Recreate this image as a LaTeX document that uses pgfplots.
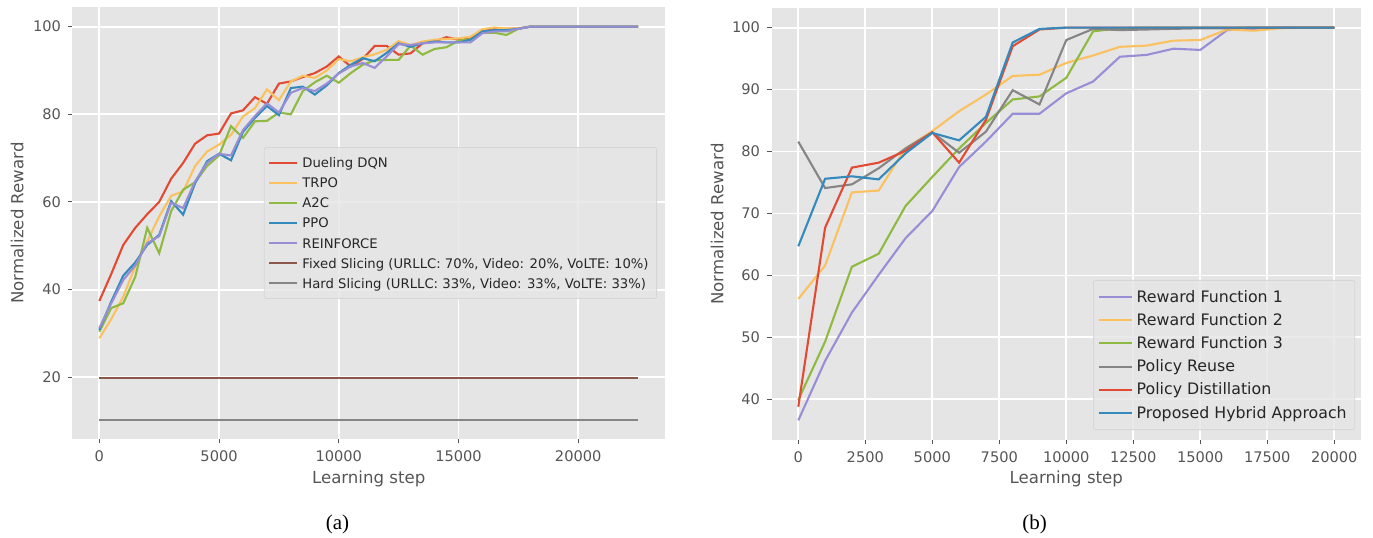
\documentclass[border=0pt]{standalone}
\usepackage{fontspec}
\setmainfont{DejaVu Sans}
\newfontfamily\capfont{Liberation Serif}
\usepackage{pgfplots}
\pgfplotsset{compat=1.18}
\definecolor{bg}{HTML}{E5E5E5}
\definecolor{tickgray}{HTML}{555555}
\definecolor{legdraw}{HTML}{D6D6D6}
\definecolor{cRed}{HTML}{E24A33}
\definecolor{cBlue}{HTML}{348ABD}
\definecolor{cPurple}{HTML}{988ED5}
\definecolor{cGray}{HTML}{858585}
\definecolor{cYellow}{HTML}{FBC15E}
\definecolor{cGreen}{HTML}{8EBA42}
\definecolor{cBrown}{HTML}{8C564B}
\pgfplotsset{
 ggstyle/.style={
  scale only axis,
  height=216pt,
  axis background/.style={fill=bg},
  axis line style={draw=none},
  grid=major,
  major grid style={white, line width=0.9pt},
  tick align=outside,
  tick pos=left,
  major tick length=2.2pt,
  tick style={tickgray, line width=0.5pt},
  ticklabel style={font=\fontsize{7.3}{8}\selectfont, text=tickgray},
  label style={font=\fontsize{8.3}{9}\selectfont, text=tickgray},
  /pgf/number format/assume math mode=true,
  /pgf/number format/1000 sep={},
  scaled ticks=false,
  legend cell align=left,
  every axis plot/.append style={line width=1.05pt, mark=none},
 }
}
\begin{document}
\begin{tikzpicture}
\path[use as bounding box] (0,0) rectangle (686.5pt,268.5pt);
% ---------------- (a) ----------------
\begin{axis}[ggstyle,
  at={(36.2pt,49pt)}, anchor=south west,
  width=296.3pt,
  xmin=-1125, xmax=23625, ymin=5.92, ymax=104.48,
  xtick={0,5000,10000,15000,20000},
  ytick={20,40,60,80,100},
  xlabel={Learning step}, ylabel={Normalized Reward},
  xlabel style={at={(axis description cs:0.5,-0.092)}, anchor=center},
  ylabel style={at={(axis description cs:-0.093,0.5)}, anchor=center},
  legend image code/.code={\draw[#1, line width=1.05pt] (0pt,0pt) -- (14pt,0pt);},
  legend style={at={(1,0.5)}, xshift=-4pt, anchor=east,
    fill=bg, fill opacity=0.8, text opacity=1, draw=legdraw, draw opacity=1,
    rounded corners=1pt,
    font=\fontsize{6.6}{7}\selectfont, text=black!85,
    nodes={text height=0.75em, text depth=0.25em, inner ysep=0.03pt},
    row sep=0pt, inner xsep=2pt, inner ysep=2.5pt},
]
\addplot[cRed] coordinates {(0,37.4)(500,43.6)(1000,50.2)(1500,54.1)(2000,57.2)(2500,60.0)(3000,65.3)(3500,68.9)(4000,73.3)(4500,75.2)(5000,75.6)(5500,80.2)(6000,80.9)(6500,83.9)(7000,82.4)(7500,87.0)(8000,87.5)(8500,88.5)(9000,89.4)(9500,90.9)(10000,93.2)(10500,90.9)(11000,92.6)(11500,95.6)(12000,95.6)(12500,93.6)(13000,93.9)(13500,96.2)(14000,96.6)(14500,97.6)(15000,97.0)(15500,97.3)(16000,99.1)(16500,99.6)(17000,99.5)(17500,99.6)(18000,100)(18500,100)(19000,100)(19500,100)(20000,100)(20500,100)(21000,100)(21500,100)(22000,100)(22500,100)};
\addlegendentry{Dueling DQN}
\addplot[cYellow] coordinates {(0,28.9)(500,33.3)(1000,38.4)(1500,45.3)(2000,51.0)(2500,56.7)(3000,61.4)(3500,62.4)(4000,68.2)(4500,71.5)(5000,73.1)(5500,75.3)(6000,79.5)(6500,81.4)(7000,85.7)(7500,83.2)(8000,87.5)(8500,88.8)(9000,88.3)(9500,90.0)(10000,92.6)(10500,92.1)(11000,93.0)(11500,93.7)(12000,94.7)(12500,96.7)(13000,95.8)(13500,96.6)(14000,97.0)(14500,97.2)(15000,97.3)(15500,97.7)(16000,99.4)(16500,99.8)(17000,99.6)(17500,99.6)(18000,100)(18500,100)(19000,100)(19500,100)(20000,100)(20500,100)(21000,100)(21500,100)(22000,100)(22500,100)};
\addlegendentry{TRPO}
\addplot[cGreen] coordinates {(0,30.4)(500,35.8)(1000,36.9)(1500,42.9)(2000,54.1)(2500,48.3)(3000,57.9)(3500,62.8)(4000,64.5)(4500,68.2)(5000,70.6)(5500,77.3)(6000,74.6)(6500,78.4)(7000,78.5)(7500,80.4)(8000,80.0)(8500,85.3)(9000,87.3)(9500,88.8)(10000,87.2)(10500,89.4)(11000,91.3)(11500,92.3)(12000,92.4)(12500,92.4)(13000,95.7)(13500,93.6)(14000,94.9)(14500,95.3)(15000,96.8)(15500,97.1)(16000,98.6)(16500,98.6)(17000,98.1)(17500,99.5)(18000,100)(18500,100)(19000,100)(19500,100)(20000,100)(20500,100)(21000,100)(21500,100)(22000,100)(22500,100)};
\addlegendentry{A2C}
\addplot[cBlue] coordinates {(0,30.8)(500,37.3)(1000,43.2)(1500,46.2)(2000,50.2)(2500,52.5)(3000,60.2)(3500,57.1)(4000,64.3)(4500,69.3)(5000,71.0)(5500,69.5)(6000,76.0)(6500,79.2)(7000,81.9)(7500,79.8)(8000,86.0)(8500,86.3)(9000,84.5)(9500,86.6)(10000,89.4)(10500,91.3)(11000,92.8)(11500,92.1)(12000,94.0)(12500,96.2)(13000,95.4)(13500,96.2)(14000,96.6)(14500,96.4)(15000,96.4)(15500,97.0)(16000,98.9)(16500,99.2)(17000,99.2)(17500,99.5)(18000,100)(18500,100)(19000,100)(19500,100)(20000,100)(20500,100)(21000,100)(21500,100)(22000,100)(22500,100)};
\addlegendentry{PPO}
\addplot[cPurple] coordinates {(0,31.2)(500,36.9)(1000,42.2)(1500,45.5)(2000,50.6)(2500,52.2)(3000,59.8)(3500,58.6)(4000,64.7)(4500,68.9)(5000,71.0)(5500,70.6)(6000,76.4)(6500,79.6)(7000,82.5)(7500,80.4)(8000,84.9)(8500,86.0)(9000,85.3)(9500,87.0)(10000,89.3)(10500,90.9)(11000,91.7)(11500,90.6)(12000,93.2)(12500,96.0)(13000,95.8)(13500,96.2)(14000,96.4)(14500,96.4)(15000,96.4)(15500,96.4)(16000,98.5)(16500,98.9)(17000,98.9)(17500,99.5)(18000,100)(18500,100)(19000,100)(19500,100)(20000,100)(20500,100)(21000,100)(21500,100)(22000,100)(22500,100)};
\addlegendentry{REINFORCE}
\addplot[cBrown] coordinates {(0,19.8)(22500,19.8)};
\addlegendentry{Fixed Slicing (URLLC: 70\%, Video: 20\%, VoLTE: 10\%)}
\addplot[cGray] coordinates {(0,10.3)(22500,10.3)};
\addlegendentry{Hard Slicing (URLLC: 33\%, Video: 33\%, VoLTE: 33\%)}
\end{axis}
% ---------------- (b) ----------------
\begin{axis}[ggstyle,
  at={(385.75pt,48.5pt)}, anchor=south west,
  width=294.8pt,
  xmin=-1000, xmax=21000, ymin=33.43, ymax=103.17,
  xtick={0,2500,5000,7500,10000,12500,15000,17500,20000},
  ytick={40,50,60,70,80,90,100},
  xlabel={Learning step}, ylabel={Normalized Reward},
  xlabel style={at={(axis description cs:0.5,-0.09)}, anchor=center},
  ylabel style={at={(axis description cs:-0.092,0.5)}, anchor=center},
  legend image code/.code={\draw[#1, line width=1.05pt] (0pt,0pt) -- (16.5pt,0pt);},
  legend style={at={(1,0)}, xshift=-3pt, yshift=5pt, anchor=south east,
    fill=bg, fill opacity=0.8, text opacity=1, draw=legdraw, draw opacity=1,
    rounded corners=1pt,
    font=\fontsize{7.9}{8.5}\selectfont, text=black!85,
    nodes={text height=0.75em, text depth=0.25em, inner ysep=0.8pt},
    row sep=0pt, inner xsep=2pt, inner ysep=2.5pt},
]
\addplot[cPurple] coordinates {(0,36.6)(1000,46.2)(2000,54.0)(3000,60.1)(4000,66.0)(5000,70.4)(6000,77.5)(7000,81.6)(8000,86.1)(9000,86.1)(10000,89.4)(11000,91.3)(12000,95.3)(13000,95.6)(14000,96.6)(15000,96.4)(16000,99.6)(17000,99.8)(18000,100)(19000,100)(20000,100)};
\addlegendentry{Reward Function 1}
\addplot[cYellow] coordinates {(0,56.2)(1000,61.6)(2000,73.4)(3000,73.7)(4000,80.5)(5000,83.3)(6000,86.5)(7000,89.2)(8000,92.2)(9000,92.4)(10000,94.3)(11000,95.5)(12000,96.9)(13000,97.1)(14000,97.9)(15000,98.0)(16000,99.7)(17000,99.5)(18000,99.9)(19000,100)(20000,100)};
\addlegendentry{Reward Function 2}
\addplot[cGreen] coordinates {(0,39.9)(1000,49.3)(2000,61.4)(3000,63.5)(4000,71.2)(5000,75.9)(6000,80.5)(7000,84.6)(8000,88.4)(9000,88.9)(10000,91.9)(11000,99.4)(12000,99.9)(13000,100)(14000,100)(15000,100)(16000,100)(17000,100)(18000,100)(19000,100)(20000,100)};
\addlegendentry{Reward Function 3}
\addplot[cGray] coordinates {(0,81.6)(1000,74.1)(2000,74.7)(3000,77.3)(4000,80.5)(5000,83.1)(6000,79.8)(7000,83.2)(8000,89.9)(9000,87.6)(10000,98.0)(11000,99.8)(12000,99.6)(13000,99.7)(14000,99.8)(15000,99.9)(16000,99.9)(17000,100)(18000,100)(19000,100)(20000,100)};
\addlegendentry{Policy Reuse}
\addplot[cRed] coordinates {(0,38.8)(1000,67.7)(2000,77.4)(3000,78.2)(4000,80.1)(5000,83.1)(6000,78.2)(7000,85.1)(8000,97.0)(9000,99.7)(10000,100)(11000,100)(12000,100)(13000,100)(14000,100)(15000,100)(16000,100)(17000,100)(18000,100)(19000,100)(20000,100)};
\addlegendentry{Policy Distillation}
\addplot[cBlue] coordinates {(0,64.7)(1000,75.6)(2000,76.0)(3000,75.5)(4000,79.7)(5000,83.0)(6000,81.8)(7000,85.6)(8000,97.6)(9000,99.8)(10000,100)(11000,100)(12000,100)(13000,100)(14000,100)(15000,100)(16000,100)(17000,100)(18000,100)(19000,100)(20000,100)};
\addlegendentry{Proposed Hybrid Approach}
\end{axis}
\node[font=\capfont\fontsize{10.5}{12}\selectfont, inner sep=0pt] at (168.75pt,6.5pt) {(a)};
\node[font=\capfont\fontsize{10.5}{12}\selectfont, inner sep=0pt] at (517.25pt,6.5pt) {(b)};
\end{tikzpicture}
\end{document}
